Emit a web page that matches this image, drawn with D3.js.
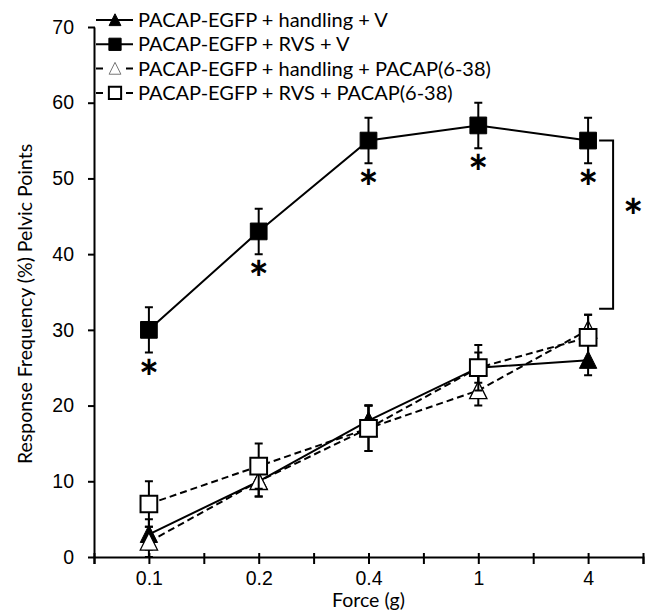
<!DOCTYPE html>
<html>
<head>
<meta charset="utf-8">
<script src="https://cdn.jsdelivr.net/npm/d3@7"></script>
<style>
  body { margin: 0; background: #fff; }
  svg { display: block; font-family: Lato, "Liberation Sans", sans-serif; }
</style>
</head>
<body>
<div id="chart"></div>
<script>
// Force categories (x axis is categorical, evenly spaced)
let forces = ["0.1", "0.2", "0.4", "1", "4"]
let yTicks = [0, 10, 20, 30, 40, 50, 60, 70]

// Response frequency (%) and error bar size for each group
let handlingV = [3, 10, 18, 25, 26]
let handlingVErr = [2, 2, 2, 2, 2]
let rvsV = [30, 43, 55, 57, 55]
let rvsVErr = [3, 3, 3, 3, 3]
let handlingPacap = [2, 10, 17, 22, 30]
let handlingPacapErr = [2, 2, 3, 2, 2]
let rvsPacap = [7, 12, 17, 25, 29]
let rvsPacapErr = [3, 3, 3, 3, 3]

let seriesNames = [
  "PACAP-EGFP + handling + V",
  "PACAP-EGFP + RVS + V",
  "PACAP-EGFP + handling + PACAP(6-38)",
  "PACAP-EGFP + RVS + PACAP(6-38)"
]

let W = 651, H = 613
let mLeft = 94, mRight = 643, mTop = 27, mBottom = 557
let fs = 19.5

let svg = d3.select("#chart").append("svg")
  .attr("width", W).attr("height", H)

// x works on category index so we can put ticks between categories too
let x = d3.scaleLinear().domain([-0.5, forces.length - 0.5]).range([mLeft, mRight])
let y = d3.scaleLinear().domain([0, 70]).range([mBottom, mTop])

// taller triangle than d3's equilateral one
let tallTriangle = {
  draw(ctx, size) {
    let r = Math.sqrt(size) / 2
    ctx.moveTo(0, -r * 1.05)
    ctx.lineTo(r, r * 0.95)
    ctx.lineTo(-r, r * 0.95)
    ctx.closePath()
  }
}

let series = [
  {name: seriesNames[0], values: handlingV, err: handlingVErr, shape: tallTriangle, fill: "#000", dash: null},
  {name: seriesNames[1], values: rvsV, err: rvsVErr, shape: d3.symbolSquare, fill: "#000", dash: null},
  {name: seriesNames[2], values: handlingPacap, err: handlingPacapErr, shape: tallTriangle, fill: "#fff", dash: "7,4"},
  {name: seriesNames[3], values: rvsPacap, err: rvsPacapErr, shape: d3.symbolSquare, fill: "#fff", dash: "7,4"}
]

// axes
let xAxis = svg.append("g")
  .attr("transform", `translate(0,${mBottom})`)
  .call(d3.axisBottom(x)
    .tickValues(d3.range(-0.5, forces.length, 0.5))
    .tickSize(7)
    .tickPadding(7)
    .tickFormat(i => Number.isInteger(i) ? forces[i] : ""))
xAxis.select(".domain").attr("stroke-width", 2)
xAxis.selectAll(".tick line").attr("y1", -4).attr("stroke-width", 2)
xAxis.selectAll("text").attr("font-size", fs).attr("font-family", "inherit").attr("fill", "#000")

let yAxis = svg.append("g")
  .attr("transform", `translate(${mLeft},0)`)
  .call(d3.axisLeft(y).tickValues(yTicks).tickSize(6).tickPadding(14).tickSizeOuter(0))
yAxis.select(".domain").attr("stroke-width", 2)
yAxis.selectAll(".tick line").attr("x1", -6).attr("x2", 1).attr("stroke-width", 2)
yAxis.selectAll("text").attr("font-size", fs).attr("font-family", "inherit").attr("fill", "#000")

svg.append("text")
  .attr("x", (mLeft + mRight) / 2).attr("y", 607)
  .attr("text-anchor", "middle").attr("font-size", fs)
  .text("Force (g)")

svg.append("text")
  .attr("transform", `translate(32,304) rotate(-90)`)
  .attr("text-anchor", "middle").attr("font-size", fs)
  .text("Response Frequency (%) Pelvic Points")

// lines
let line = d3.line().x((d, i) => x(i)).y(d => y(d))
svg.selectAll(".series-line")
  .data(series)
  .enter()
  .append("path")
  .attr("d", d => line(d.values))
  .attr("fill", "none")
  .attr("stroke", "#000")
  .attr("stroke-width", 2)
  .attr("stroke-dasharray", d => d.dash)

// error bars + markers, series by series
series.forEach(s => {
  let g = svg.append("g")
  let pts = s.values.map((v, i) => ({i: i, v: v, e: s.err[i]}))
  g.selectAll(".eb")
    .data(pts)
    .enter()
    .append("path")
    .attr("d", d => {
      let cx = x(d.i), y1 = y(d.v + d.e), y2 = y(d.v - d.e)
      return `M${cx},${y1}V${y2}M${cx - 4},${y1}H${cx + 4}M${cx - 4},${y2}H${cx + 4}`
    })
    .attr("fill", "none")
    .attr("stroke", "#000")
    .attr("stroke-width", 2)
  g.selectAll(".mk")
    .data(pts)
    .enter()
    .append("path")
    .attr("transform", d => `translate(${x(d.i)},${y(d.v)})`)
    .attr("d", d3.symbol().type(s.shape).size(s.shape === d3.symbolSquare ? 280 : 300))
    .attr("fill", s.fill)
    .attr("stroke", "#000")
    .attr("stroke-width", s.fill === "#fff" ? (s.shape === d3.symbolSquare ? 2 : 1.3) : 1)
})

// significance marks under RVS + V
let starSize = 48
svg.selectAll(".star")
  .data(rvsV)
  .enter()
  .append("text")
  .attr("x", (d, i) => x(i))
  .attr("y", (d, i) => y(d - rvsVErr[i]) + 42)
  .attr("text-anchor", "middle")
  .attr("font-size", starSize)
  .attr("font-weight", "bold")
  .text("*")

// bracket between RVS + V and the PACAP(6-38) group at 4 g
let last = forces.length - 1
let bx = x(last) + 25
let bTop = y(rvsV[last]), bBot = y(rvsPacap[last] + rvsPacapErr[last]) - 6
svg.append("path")
  .attr("d", `M${bx - 14},${bTop}H${bx}V${bBot}H${bx - 14}`)
  .attr("fill", "none")
  .attr("stroke", "#000")
  .attr("stroke-width", 2)
svg.append("text")
  .attr("x", bx + 20).attr("y", (bTop + bBot) / 2 + 9)
  .attr("text-anchor", "middle")
  .attr("font-size", starSize)
  .attr("font-weight", "bold")
  .text("*")

// legend
let legend = svg.append("g").attr("transform", "translate(96,20)")
let row = legend.selectAll(".row")
  .data(series)
  .enter()
  .append("g")
  .attr("transform", (d, i) => `translate(0,${i * 24.3})`)
row.append("path")
  .attr("d", d => d.dash ? "M0,0H7M30,0H37" : "M0,0H37")
  .attr("stroke", "#000")
  .attr("stroke-width", 2)
row.append("path")
  .attr("transform", "translate(19,0)")
  .attr("d", d => d3.symbol().type(d.shape).size(d.shape === d3.symbolSquare ? 150 : 140)())
  .attr("fill", d => d.fill)
  .attr("stroke", d => d.shape === d3.symbolSquare || d.fill === "#000" ? "#000" : "#777")
  .attr("stroke-width", d => d.fill === "#fff" && d.shape === d3.symbolSquare ? 2 : 1)
row.append("text")
  .attr("x", 42).attr("y", 7)
  .attr("font-size", 20)
  .text(d => d.name)
</script>
</body>
</html>
